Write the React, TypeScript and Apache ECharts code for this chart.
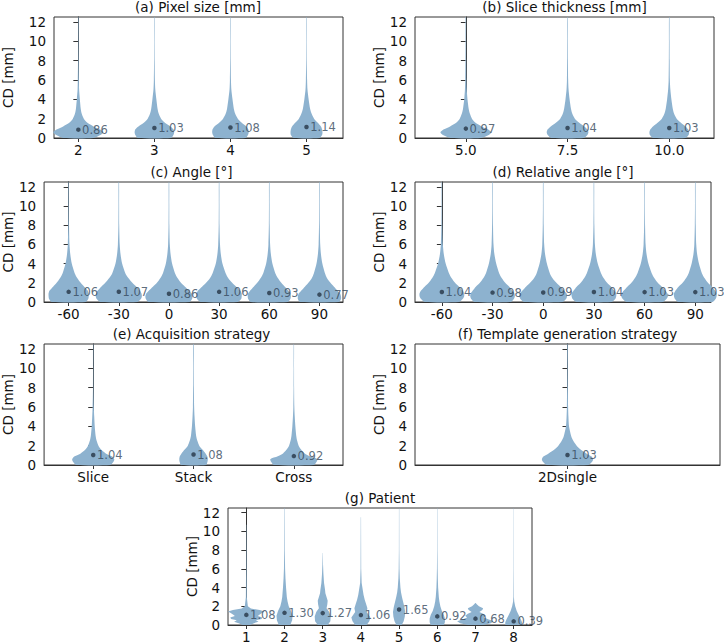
import React, { useEffect, useRef } from 'react';
import * as echarts from 'echarts';

// ---------- data ----------
const Y_LEVELS = [0, 0.3, 0.6, 0.9, 1.2, 1.6, 2.0, 2.5, 3.0, 4.0, 5.0, 6.0, 8.0, 10.0, 12.5];

const pixelCats = ['2', '3', '4', '5'];
const pixelMedians = [0.86, 1.03, 1.08, 1.14];
const pixelWidths = [
  [0.2, 0.29, 0.33, 0.28, 0.2, 0.115, 0.072, 0.045, 0.032, 0.02, 0.01, 0.007, 0.004, 0.003, 0.003],
  [0.22, 0.25, 0.26, 0.25, 0.21, 0.135, 0.088, 0.058, 0.042, 0.026, 0.012, 0.007, 0.004, 0.003, 0.003],
  [0.2, 0.23, 0.24, 0.235, 0.21, 0.145, 0.097, 0.063, 0.045, 0.027, 0.012, 0.007, 0.004, 0.003, 0.003],
  [0.17, 0.205, 0.21, 0.205, 0.19, 0.145, 0.1, 0.068, 0.048, 0.028, 0.013, 0.008, 0.004, 0.003, 0.003],
];

const sliceCats = ['5.0', '7.5', '10.0'];
const sliceMedians = [0.97, 1.04, 1.03];
const sliceWidths = [
  [0.15, 0.225, 0.25, 0.215, 0.155, 0.092, 0.06, 0.04, 0.028, 0.016, 0.009, 0.006, 0.004, 0.003, 0.0025],
  [0.16, 0.195, 0.205, 0.195, 0.165, 0.112, 0.072, 0.047, 0.034, 0.02, 0.01, 0.006, 0.004, 0.003, 0.0025],
  [0.16, 0.19, 0.195, 0.185, 0.16, 0.112, 0.073, 0.048, 0.035, 0.021, 0.011, 0.006, 0.004, 0.003, 0.0025],
];

const angleCats = ['-60', '-30', '0', '30', '60', '90'];
const angleMedians = [1.06, 1.07, 0.86, 1.06, 0.93, 0.77];
const angleWidths = [
  [0.34, 0.39, 0.4, 0.4, 0.38, 0.31, 0.24, 0.17, 0.12, 0.062, 0.032, 0.017, 0.008, 0.006, 0.005],
  [0.37, 0.44, 0.46, 0.45, 0.42, 0.35, 0.27, 0.19, 0.13, 0.066, 0.034, 0.018, 0.008, 0.006, 0.005],
  [0.41, 0.46, 0.47, 0.45, 0.4, 0.32, 0.24, 0.17, 0.12, 0.062, 0.032, 0.017, 0.008, 0.006, 0.005],
  [0.37, 0.44, 0.45, 0.45, 0.42, 0.34, 0.26, 0.18, 0.13, 0.066, 0.034, 0.018, 0.008, 0.006, 0.005],
  [0.37, 0.42, 0.43, 0.42, 0.38, 0.31, 0.24, 0.17, 0.12, 0.062, 0.032, 0.017, 0.008, 0.006, 0.005],
  [0.39, 0.43, 0.43, 0.41, 0.36, 0.29, 0.22, 0.15, 0.11, 0.058, 0.03, 0.016, 0.008, 0.006, 0.005],
];

const relAngleCats = ['-60', '-30', '0', '30', '60', '90'];
const relAngleMedians = [1.04, 0.98, 0.99, 1.04, 1.03, 1.03];
const relAngleWidths = [
  [0.34, 0.41, 0.44, 0.44, 0.41, 0.34, 0.26, 0.19, 0.14, 0.075, 0.038, 0.02, 0.009, 0.006, 0.005],
  [0.36, 0.42, 0.44, 0.43, 0.39, 0.33, 0.25, 0.18, 0.13, 0.072, 0.036, 0.019, 0.009, 0.006, 0.005],
  [0.38, 0.45, 0.47, 0.46, 0.41, 0.34, 0.26, 0.18, 0.13, 0.072, 0.036, 0.019, 0.009, 0.006, 0.005],
  [0.35, 0.42, 0.44, 0.44, 0.4, 0.34, 0.26, 0.19, 0.14, 0.075, 0.038, 0.02, 0.009, 0.006, 0.005],
  [0.36, 0.43, 0.46, 0.45, 0.41, 0.34, 0.26, 0.19, 0.14, 0.075, 0.038, 0.02, 0.009, 0.006, 0.005],
  [0.34, 0.4, 0.42, 0.42, 0.39, 0.33, 0.25, 0.18, 0.13, 0.072, 0.036, 0.019, 0.009, 0.006, 0.005],
];

const acqCats = ['Slice', 'Stack', 'Cross'];
const acqMedians = [1.04, 1.08, 0.92];
const acqWidths = [
  [0.17, 0.2, 0.21, 0.185, 0.125, 0.078, 0.052, 0.034, 0.024, 0.015, 0.01, 0.006, 0.0025, 0.002, 0.002],
  [0.125, 0.138, 0.142, 0.137, 0.12, 0.088, 0.057, 0.038, 0.026, 0.016, 0.01, 0.006, 0.004, 0.003, 0.003],
  [0.2, 0.225, 0.235, 0.16, 0.108, 0.072, 0.048, 0.033, 0.024, 0.015, 0.009, 0.005, 0.0025, 0.002, 0.002],
];

const templCats = ['2Dsingle'];
const templMedians = [1.03];
const templWidths = [
  [0.068, 0.08, 0.084, 0.078, 0.062, 0.043, 0.03, 0.019, 0.012, 0.005, 0.003, 0.002, 0.0013, 0.001, 0.001],
];

const patientCats = ['1', '2', '3', '4', '5', '6', '7', '8'];
const patientMedians = [1.08, 1.3, 1.27, 1.06, 1.65, 0.92, 0.68, 0.39];
const patientProfiles = [
  [[0, 0.1], [0.2, 0.2], [0.35, 0.32], [0.5, 0.25], [0.65, 0.4], [0.8, 0.42], [0.95, 0.3], [1.1, 0.34], [1.25, 0.4], [1.45, 0.48], [1.6, 0.35], [1.75, 0.12], [2.0, 0.04], [3, 0.012], [6, 0.007], [10.7, 0.004]],
  [[0, 0.15], [0.5, 0.2], [1.0, 0.21], [1.5, 0.17], [2, 0.11], [2.5, 0.08], [3, 0.06], [4, 0.04], [5, 0.025], [6, 0.015], [8, 0.008], [12.5, 0.005]],
  [[0, 0.13], [0.4, 0.2], [0.9, 0.21], [1.4, 0.17], [1.8, 0.1], [2.2, 0.12], [2.6, 0.13], [3.0, 0.1], [3.4, 0.07], [3.8, 0.06], [4.5, 0.035], [5.5, 0.018], [6.5, 0.008], [7.7, 0.003]],
  [[0, 0.15], [0.4, 0.22], [0.8, 0.25], [1.1, 0.2], [1.4, 0.15], [1.8, 0.17], [2.2, 0.14], [2.7, 0.1], [3.2, 0.07], [3.7, 0.05], [4.5, 0.02], [6, 0.008], [11.5, 0.004]],
  [[0, 0.07], [0.4, 0.12], [0.9, 0.15], [1.4, 0.16], [1.9, 0.14], [2.4, 0.11], [3, 0.075], [3.5, 0.05], [4, 0.035], [5, 0.018], [6, 0.01], [8, 0.005], [12.5, 0.004]],
  [[0, 0.17], [0.3, 0.2], [0.7, 0.2], [1.1, 0.17], [1.5, 0.12], [2, 0.08], [2.5, 0.055], [3, 0.04], [4, 0.022], [5, 0.014], [6, 0.009], [8, 0.005], [12.5, 0.004]],
  [[0, 0.2], [0.2, 0.4], [0.4, 0.48], [0.6, 0.35], [0.8, 0.22], [1.0, 0.27], [1.2, 0.2], [1.4, 0.1], [1.6, 0.18], [1.8, 0.2], [2.0, 0.09], [2.2, 0.04], [2.35, 0.005]],
  [[0, 0.22], [0.3, 0.22], [0.6, 0.19], [1.0, 0.14], [1.5, 0.08], [2, 0.04], [2.5, 0.015], [3, 0.007], [6, 0.004], [12.5, 0.003]],
];

const Y_TICKS = [0, 2, 4, 6, 8, 10, 12];
const Y_MAX = 12.5;

// ---------- styling ----------
const FONT = "'DejaVu Sans', sans-serif";
const VIOLIN = '#8db2cf';
const DOT = '#263545';
const MED_TEXT = '#34475a';
const FRAME = '#333333';
const TEXT = '#111111';

const toProfile = (w: number[]) => Y_LEVELS.map((y, i) => [y, w[i]]);

const panels = [
  { title: '(a) Pixel size [mm]', cats: pixelCats, medians: pixelMedians, profiles: pixelWidths.map(toProfile),
    grid: { left: 53, top: 17, width: 290, height: 121 }, xMin: -0.32, xMax: 3.48, nameGap: 39, smooth: 0.25 },
  { title: '(b) Slice thickness [mm]', cats: sliceCats, medians: sliceMedians, profiles: sliceWidths.map(toProfile),
    grid: { left: 415, top: 17, width: 299, height: 121 }, xMin: -0.5, xMax: 2.44, nameGap: 25.5, smooth: 0.25 },
  { title: '(c) Angle [°]', cats: angleCats, medians: angleMedians, profiles: angleWidths.map(toProfile),
    grid: { left: 40, top: 182, width: 303, height: 120 }, xMin: -0.49, xMax: 5.47, nameGap: 25.5, smooth: 0.25 },
  { title: '(d) Relative angle [°]', cats: relAngleCats, medians: relAngleMedians, profiles: relAngleWidths.map(toProfile),
    grid: { left: 415, top: 182, width: 296, height: 120 }, xMin: -0.53, xMax: 5.31, nameGap: 25.5, smooth: 0.25 },
  { title: '(e) Acquisition strategy', cats: acqCats, medians: acqMedians, profiles: acqWidths.map(toProfile),
    grid: { left: 40, top: 344, width: 303, height: 121 }, xMin: -0.49, xMax: 2.49, nameGap: 25.5, smooth: 0.25 },
  { title: '(f) Template generation strategy', cats: templCats, medians: templMedians, profiles: templWidths.map(toProfile),
    grid: { left: 415, top: 344, width: 305, height: 121 }, xMin: -0.5, xMax: 0.5, nameGap: 25.5, smooth: 0.25 },
  { title: '(g) Patient', cats: patientCats, medians: patientMedians, profiles: patientProfiles,
    grid: { left: 228, top: 508, width: 304, height: 122 }, xMin: -0.48, xMax: 7.48, nameGap: 27, smooth: 0 },
];

function buildOption() {
  const grids: any[] = [];
  const xAxes: any[] = [];
  const yAxes: any[] = [];
  const series: any[] = [];
  const graphics: any[] = [];

  panels.forEach((p, gi) => {
    grids.push({ ...p.grid, show: true, borderColor: FRAME, borderWidth: 1, backgroundColor: 'transparent' });
    const xVals = p.cats.map((_, i) => i);
    xAxes.push({
      type: 'value', gridIndex: gi, min: p.xMin, max: p.xMax,
      axisLine: { show: true, lineStyle: { color: FRAME, width: 1 } },
      axisTick: { show: true, length: 4, customValues: xVals, lineStyle: { color: FRAME } },
      axisLabel: {
        customValues: xVals, margin: 5, fontSize: 13.5, color: TEXT, fontFamily: FONT,
        formatter: (v: number) => p.cats[Math.round(v)] ?? '',
      },
      splitLine: { show: false },
    });
    yAxes.push({
      type: 'value', gridIndex: gi, min: 0, max: Y_MAX,
      name: 'CD [mm]', nameLocation: 'middle', nameGap: p.nameGap,
      nameTextStyle: { fontSize: 13.5, color: TEXT, fontFamily: FONT },
      axisLine: { show: true, lineStyle: { color: FRAME, width: 1 } },
      axisTick: { show: true, length: 5, customValues: Y_TICKS, lineStyle: { color: FRAME } },
      axisLabel: { customValues: Y_TICKS, margin: 8, fontSize: 13.5, color: TEXT, fontFamily: FONT },
      splitLine: { show: false },
    });
    const profiles = p.profiles;
    const smooth = p.smooth;
    series.push({
      type: 'custom', xAxisIndex: gi, yAxisIndex: gi, clip: false, silent: true, z: 2,
      data: profiles.map((_, i) => [i, 0]),
      encode: { x: 0, y: 1 },
      renderItem: (params: any, api: any) => {
        const prof = profiles[params.dataIndex];
        const cx = api.value(0);
        const right = prof.map(([y, w]: number[]) => api.coord([cx + w, y]));
        const left = prof.slice().reverse().map(([y, w]: number[]) => api.coord([cx - w, y]));
        return {
          type: 'polygon',
          shape: { points: right.concat(left), smooth },
          style: { fill: VIOLIN, stroke: null },
        };
      },
    });
    series.push({
      type: 'scatter', xAxisIndex: gi, yAxisIndex: gi, z: 5, silent: true,
      symbolSize: 4.5, itemStyle: { color: DOT },
      data: p.medians.map((m, i) => [i, m]),
      label: {
        show: true, position: 'right', distance: 1.5, fontSize: 11.5, color: MED_TEXT, fontFamily: FONT,
        formatter: (d: any) => d.value[1].toFixed(2),
      },
    });
    graphics.push({
      type: 'text',
      x: p.grid.left + p.grid.width / 2,
      y: p.grid.top - 10,
      style: { text: p.title, fontSize: 13.5, fontFamily: FONT, fill: TEXT, textAlign: 'center', textVerticalAlign: 'middle' },
    });
  });

  return {
    animation: false,
    backgroundColor: '#ffffff',
    grid: grids,
    xAxis: xAxes,
    yAxis: yAxes,
    series,
    graphic: graphics,
  };
}

export default function App() {
  const ref = useRef<HTMLDivElement>(null);
  useEffect(() => {
    if (!ref.current) return;
    const chart = echarts.init(ref.current, undefined, { renderer: 'svg' });
    chart.setOption(buildOption() as any);
    return () => chart.dispose();
  }, []);
  return <div ref={ref} style={{ position: 'absolute', left: 0, top: 0, width: 724, height: 644 }} />;
}
